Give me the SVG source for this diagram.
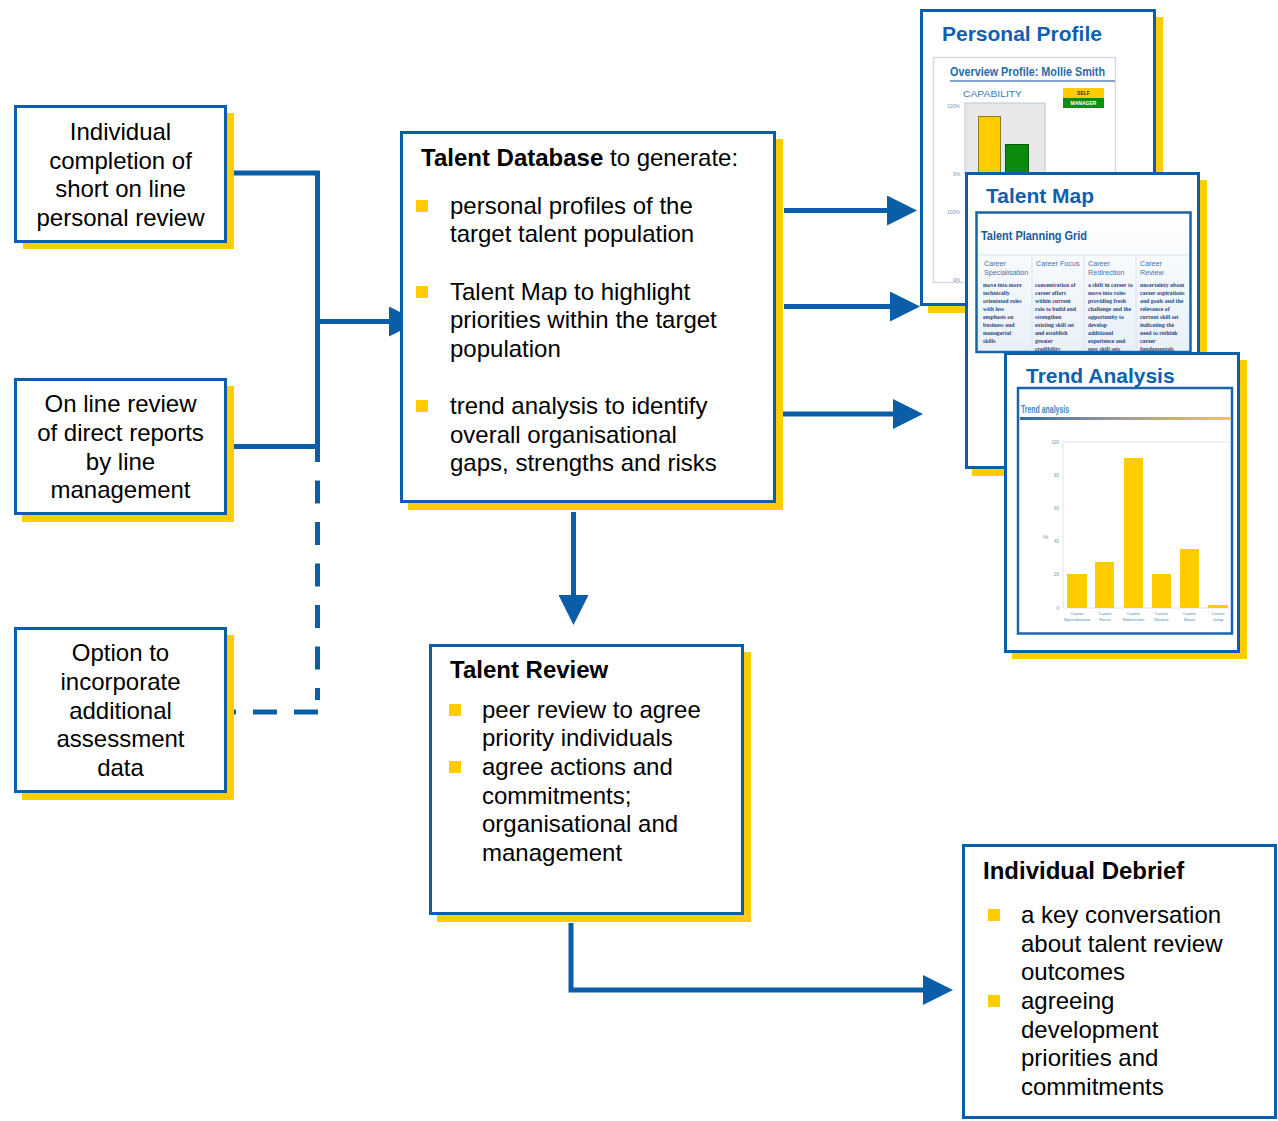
<svg xmlns="http://www.w3.org/2000/svg" width="1278" height="1121" viewBox="0 0 1278 1121">
<defs>
<style>
.box{fill:#fff;stroke:#0b5fa8;stroke-width:3}
.shadow{fill:#ffcc00}
.t{font-family:"Liberation Sans",Arial,sans-serif;font-size:24px;fill:#000}
.c{text-anchor:middle}
.b{font-weight:bold}
.bul{fill:#ffcc00}
.conn{fill:none;stroke:#0a5ea8;stroke-width:5}
.dash{fill:none;stroke:#0a5ea8;stroke-width:5}
.card{fill:#fff;stroke:#0b5fa8;stroke-width:3}
.ct{font-family:"Liberation Sans",Arial,sans-serif;font-size:21px;font-weight:bold;fill:#1060b0}
.tiny{font-family:"Liberation Sans",Arial,sans-serif;fill:#7a92b0}
.hdr{font-family:"Liberation Sans",Arial,sans-serif;font-size:7.2px;fill:#4a72a0}
.body{font-family:"Liberation Serif",serif;font-size:5.8px;font-weight:bold;fill:#2a4a80}
.bar{fill:#ffcc00}
.lab{font-family:"Liberation Sans",Arial,sans-serif;font-size:4.3px;fill:#4a8ac0;text-anchor:middle}
.grid{stroke:#dde2ea;stroke-width:1;fill:none}
</style>
<marker id="ah" markerUnits="userSpaceOnUse" markerWidth="30" markerHeight="30" refX="2" refY="15" orient="auto">
<path d="M0,0 L30,15 L0,30 Z" fill="#0a5ea8"/>
</marker>
<linearGradient id="tg" x1="0" x2="1" y1="0" y2="0">
<stop offset="0" stop-color="#2f6aa0"/>
<stop offset="0.45" stop-color="#9a9a9a"/>
<stop offset="1" stop-color="#f2c84a"/>
</linearGradient>
<linearGradient id="gridbg" x1="0" x2="0" y1="0" y2="1">
<stop offset="0" stop-color="#ffffff"/>
<stop offset="1" stop-color="#e8f0f8"/>
</linearGradient>
<clipPath id="mapclip"><rect x="976" y="213" width="215" height="138"/></clipPath>
</defs>

<g id="connectors">
<path class="conn" d="M233,173 H317.5 V449"/>
<path class="conn" d="M233,446.5 H317.5"/>
<path class="conn" d="M317.5,321.5 H391" marker-end="url(#ah)"/>
<path class="dash" d="M317.5,439 V700" stroke-dasharray="23 18.5"/>
<path class="dash" d="M318,712 H234" stroke-dasharray="24 17"/>
<path class="conn" d="M784,210.5 H889" marker-end="url(#ah)"/>
<path class="conn" d="M784,306.5 H892" marker-end="url(#ah)"/>
<path class="conn" d="M781,414 H895" marker-end="url(#ah)"/>
<path class="conn" d="M573.5,512 V597" marker-end="url(#ah)"/>
<path class="conn" d="M571,923 V990 H925" marker-end="url(#ah)"/>
</g>

<g id="individual-completion">
<rect class="shadow" x="23" y="113" width="211" height="136"/>
<rect class="box" x="15.5" y="106.5" width="210" height="135"/>
<text class="t c" x="120.5" y="140">Individual</text>
<text class="t c" x="120.5" y="168.5">completion of</text>
<text class="t c" x="120.5" y="197">short on line</text>
<text class="t c" x="120.5" y="225.5">personal review</text>
</g>

<g id="online-review">
<rect class="shadow" x="22" y="386" width="212" height="136"/>
<rect class="box" x="15.5" y="379.5" width="210" height="134"/>
<text class="t c" x="120.5" y="412">On line review</text>
<text class="t c" x="120.5" y="441">of direct reports</text>
<text class="t c" x="120.5" y="470">by line</text>
<text class="t c" x="120.5" y="498">management</text>
</g>

<g id="option-data">
<rect class="shadow" x="22" y="635" width="212" height="165"/>
<rect class="box" x="15.5" y="628.5" width="210" height="163"/>
<text class="t c" x="120.5" y="661">Option to</text>
<text class="t c" x="120.5" y="690">incorporate</text>
<text class="t c" x="120.5" y="719">additional</text>
<text class="t c" x="120.5" y="747">assessment</text>
<text class="t c" x="120.5" y="776">data</text>
</g>

<g id="talent-database">
<rect class="shadow" x="408" y="139" width="375" height="371"/>
<rect class="box" x="401.5" y="132.5" width="373" height="369"/>
<text class="t" x="421" y="166"><tspan class="b">Talent Database</tspan> to generate:</text>
<rect class="bul" x="416" y="200" width="12" height="12"/>
<text class="t" x="450" y="214">personal  profiles of the</text>
<text class="t" x="450" y="242">target talent population</text>
<rect class="bul" x="416" y="286" width="12" height="12"/>
<text class="t" x="450" y="300">Talent Map to highlight</text>
<text class="t" x="450" y="328">priorities within the target</text>
<text class="t" x="450" y="357">population</text>
<rect class="bul" x="416" y="400" width="12" height="12"/>
<text class="t" x="450" y="414">trend analysis to identify</text>
<text class="t" x="450" y="443">overall organisational</text>
<text class="t" x="450" y="471">gaps, strengths and risks</text>
</g>

<g id="talent-review">
<rect class="shadow" x="437" y="652" width="314" height="270"/>
<rect class="box" x="430.5" y="645.5" width="312" height="268"/>
<text class="t b" x="450" y="678">Talent Review</text>
<rect class="bul" x="449" y="704" width="12" height="12"/>
<text class="t" x="482" y="718">peer review to agree</text>
<text class="t" x="482" y="746">priority individuals</text>
<rect class="bul" x="449" y="761" width="12" height="12"/>
<text class="t" x="482" y="775">agree actions and</text>
<text class="t" x="482" y="804">commitments;</text>
<text class="t" x="482" y="832">organisational and</text>
<text class="t" x="482" y="861">management</text>
</g>

<g id="individual-debrief">
<rect class="box" x="963.5" y="845.5" width="312" height="272"/>
<text class="t b" x="983" y="879">Individual Debrief</text>
<rect class="bul" x="988" y="909" width="12" height="12"/>
<text class="t" x="1021" y="923">a key conversation</text>
<text class="t" x="1021" y="952">about talent review</text>
<text class="t" x="1021" y="980">outcomes</text>
<rect class="bul" x="988" y="995" width="12" height="12"/>
<text class="t" x="1021" y="1009">agreeing</text>
<text class="t" x="1021" y="1038">development</text>
<text class="t" x="1021" y="1066">priorities and</text>
<text class="t" x="1021" y="1095">commitments</text>
</g>

<g id="personal-profile">
<rect class="shadow" x="928" y="17" width="235" height="296"/>
<rect class="card" x="921.5" y="10.5" width="233" height="294"/>
<text class="ct" x="942" y="41">Personal Profile</text>
<rect x="933.5" y="57.5" width="182" height="225" fill="#fff" stroke="#d4dae2" stroke-width="1.5"/>
<text x="950" y="76" font-family="Liberation Sans, Arial, sans-serif" font-size="12.5" font-weight="bold" fill="#2a6aa8" textLength="155" lengthAdjust="spacingAndGlyphs">Overview Profile: Mollie Smith</text>
<line x1="950" y1="81" x2="1115" y2="81" stroke="#5a86b8" stroke-width="1.5"/>
<text x="963" y="97" font-family="Liberation Sans, Arial, sans-serif" font-size="9" fill="#3a7ab0" textLength="59" lengthAdjust="spacingAndGlyphs">CAPABILITY</text>
<rect x="1063" y="88" width="41" height="10" fill="#ffcc00"/>
<rect x="1063" y="98" width="41" height="10" fill="#118a18"/>
<text x="1083.5" y="95" font-family="Liberation Sans, Arial, sans-serif" font-size="5" font-weight="bold" fill="#333" text-anchor="middle">SELF</text>
<text x="1083.5" y="105" font-family="Liberation Sans, Arial, sans-serif" font-size="5" font-weight="bold" fill="#fff" text-anchor="middle">MANAGER</text>
<rect x="965" y="103" width="80" height="71" fill="#e8e8e8" stroke="#b8c8d8" stroke-width="1"/>
<rect x="978.5" y="116.5" width="22" height="57" fill="#ffcc00" stroke="#8a7a20" stroke-width="1"/>
<rect x="1005.5" y="144.5" width="23" height="29" fill="#0b8a0b" stroke="#0a5a0a" stroke-width="1"/>
<text class="tiny" x="947" y="108" font-size="5">100%</text>
<text class="tiny" x="953" y="176" font-size="5">0%</text>
<text class="tiny" x="947" y="214" font-size="5">100%</text>
<text class="tiny" x="953" y="282" font-size="5">0%</text>
</g>

<g id="talent-map">
<rect class="shadow" x="972" y="180" width="235" height="296"/>
<rect class="card" x="966.5" y="173.5" width="232" height="294"/>
<text class="ct" x="986" y="203">Talent Map</text>
<rect x="976.5" y="212.5" width="214" height="139.5" fill="url(#gridbg)" stroke="#1a64aa" stroke-width="2.5"/>
<text x="981" y="240" font-family="Liberation Sans, Arial, sans-serif" font-size="13" font-weight="bold" fill="#1a5a9a" textLength="106" lengthAdjust="spacingAndGlyphs">Talent Planning Grid</text>
<g clip-path="url(#mapclip)">
<line class="grid" x1="978" y1="255" x2="1189" y2="255"/>
<line class="grid" x1="1032" y1="255" x2="1032" y2="352"/>
<line class="grid" x1="1084" y1="255" x2="1084" y2="352"/>
<line class="grid" x1="1136" y1="255" x2="1136" y2="352"/>
<text class="hdr" x="984" y="266">Career</text>
<text class="hdr" x="984" y="275">Specialisation</text>
<text class="hdr" x="1036" y="266">Career Focus</text>
<text class="hdr" x="1088" y="266">Career</text>
<text class="hdr" x="1088" y="275">Redirection</text>
<text class="hdr" x="1140" y="266">Career</text>
<text class="hdr" x="1140" y="275">Review</text>
<text class="body" x="983"><tspan x="983" y="287">move into more</tspan><tspan x="983" y="295">technically</tspan><tspan x="983" y="303">orientated roles</tspan><tspan x="983" y="311">with less</tspan><tspan x="983" y="319">emphasis on</tspan><tspan x="983" y="327">business and</tspan><tspan x="983" y="335">managerial</tspan><tspan x="983" y="343">skills</tspan></text>
<text class="body" x="1035"><tspan x="1035" y="287">concentration of</tspan><tspan x="1035" y="295">career effort</tspan><tspan x="1035" y="303">within current</tspan><tspan x="1035" y="311">role to build and</tspan><tspan x="1035" y="319">strengthen</tspan><tspan x="1035" y="327">existing skill set</tspan><tspan x="1035" y="335">and establish</tspan><tspan x="1035" y="343">greater</tspan><tspan x="1035" y="351">credibility</tspan></text>
<text class="body" x="1088"><tspan x="1088" y="287">a shift in career to</tspan><tspan x="1088" y="295">move into roles</tspan><tspan x="1088" y="303">providing fresh</tspan><tspan x="1088" y="311">challenge and the</tspan><tspan x="1088" y="319">opportunity to</tspan><tspan x="1088" y="327">develop</tspan><tspan x="1088" y="335">additional</tspan><tspan x="1088" y="343">experience and</tspan><tspan x="1088" y="351">new skill sets</tspan></text>
<text class="body" x="1140"><tspan x="1140" y="287">uncertainty about</tspan><tspan x="1140" y="295">career aspirations</tspan><tspan x="1140" y="303">and goals and the</tspan><tspan x="1140" y="311">relevance of</tspan><tspan x="1140" y="319">current skill set</tspan><tspan x="1140" y="327">indicating the</tspan><tspan x="1140" y="335">need to rethink</tspan><tspan x="1140" y="343">career</tspan><tspan x="1140" y="351">fundamentals</tspan></text>
</g>
</g>

<g id="trend-analysis">
<rect class="shadow" x="1012" y="360" width="235" height="299"/>
<rect class="card" x="1005.5" y="353.5" width="233" height="298"/>
<text class="ct" x="1026" y="383">Trend Analysis</text>
<rect x="1018" y="388" width="214" height="245.5" fill="#fff" stroke="#1a64aa" stroke-width="2.5"/>
<text x="1021" y="413" font-family="Liberation Sans, Arial, sans-serif" font-size="11" font-weight="bold" fill="#3a8ac0" textLength="48" lengthAdjust="spacingAndGlyphs">Trend analysis</text>
<rect x="1020" y="417" width="211" height="3" fill="url(#tg)"/>
<line class="grid" x1="1063" y1="442" x2="1231" y2="442"/>
<line class="grid" x1="1063" y1="442" x2="1063" y2="608"/>
<line class="grid" x1="1063" y1="608" x2="1231" y2="608"/>
<g class="tiny" font-size="4.5" text-anchor="end">
<text x="1059" y="443.5">100</text>
<text x="1059" y="476.5">80</text>
<text x="1059" y="509.5">60</text>
<text x="1059" y="543">40</text>
<text x="1059" y="576">20</text>
<text x="1059" y="609.5">0</text>
</g>
<text class="tiny" x="1043" y="539" font-size="6">%</text>
<rect class="bar" x="1067" y="574" width="20" height="34"/>
<rect class="bar" x="1095" y="562" width="19" height="46"/>
<rect class="bar" x="1124" y="458" width="19" height="150"/>
<rect class="bar" x="1152" y="574" width="19" height="34"/>
<rect class="bar" x="1180" y="549" width="19" height="59"/>
<rect class="bar" x="1208" y="605" width="20" height="3"/>
<text class="lab" x="1077" y="615">Career</text><text class="lab" x="1077" y="621">Specialisation</text>
<text class="lab" x="1105" y="615">Career</text><text class="lab" x="1105" y="621">Focus</text>
<text class="lab" x="1133.5" y="615">Career</text><text class="lab" x="1133.5" y="621">Redirection</text>
<text class="lab" x="1161.5" y="615">Career</text><text class="lab" x="1161.5" y="621">Review</text>
<text class="lab" x="1189.5" y="615">Career</text><text class="lab" x="1189.5" y="621">Boost</text>
<text class="lab" x="1218" y="615">Career</text><text class="lab" x="1218" y="621">Jump</text>
</g>
</svg>
